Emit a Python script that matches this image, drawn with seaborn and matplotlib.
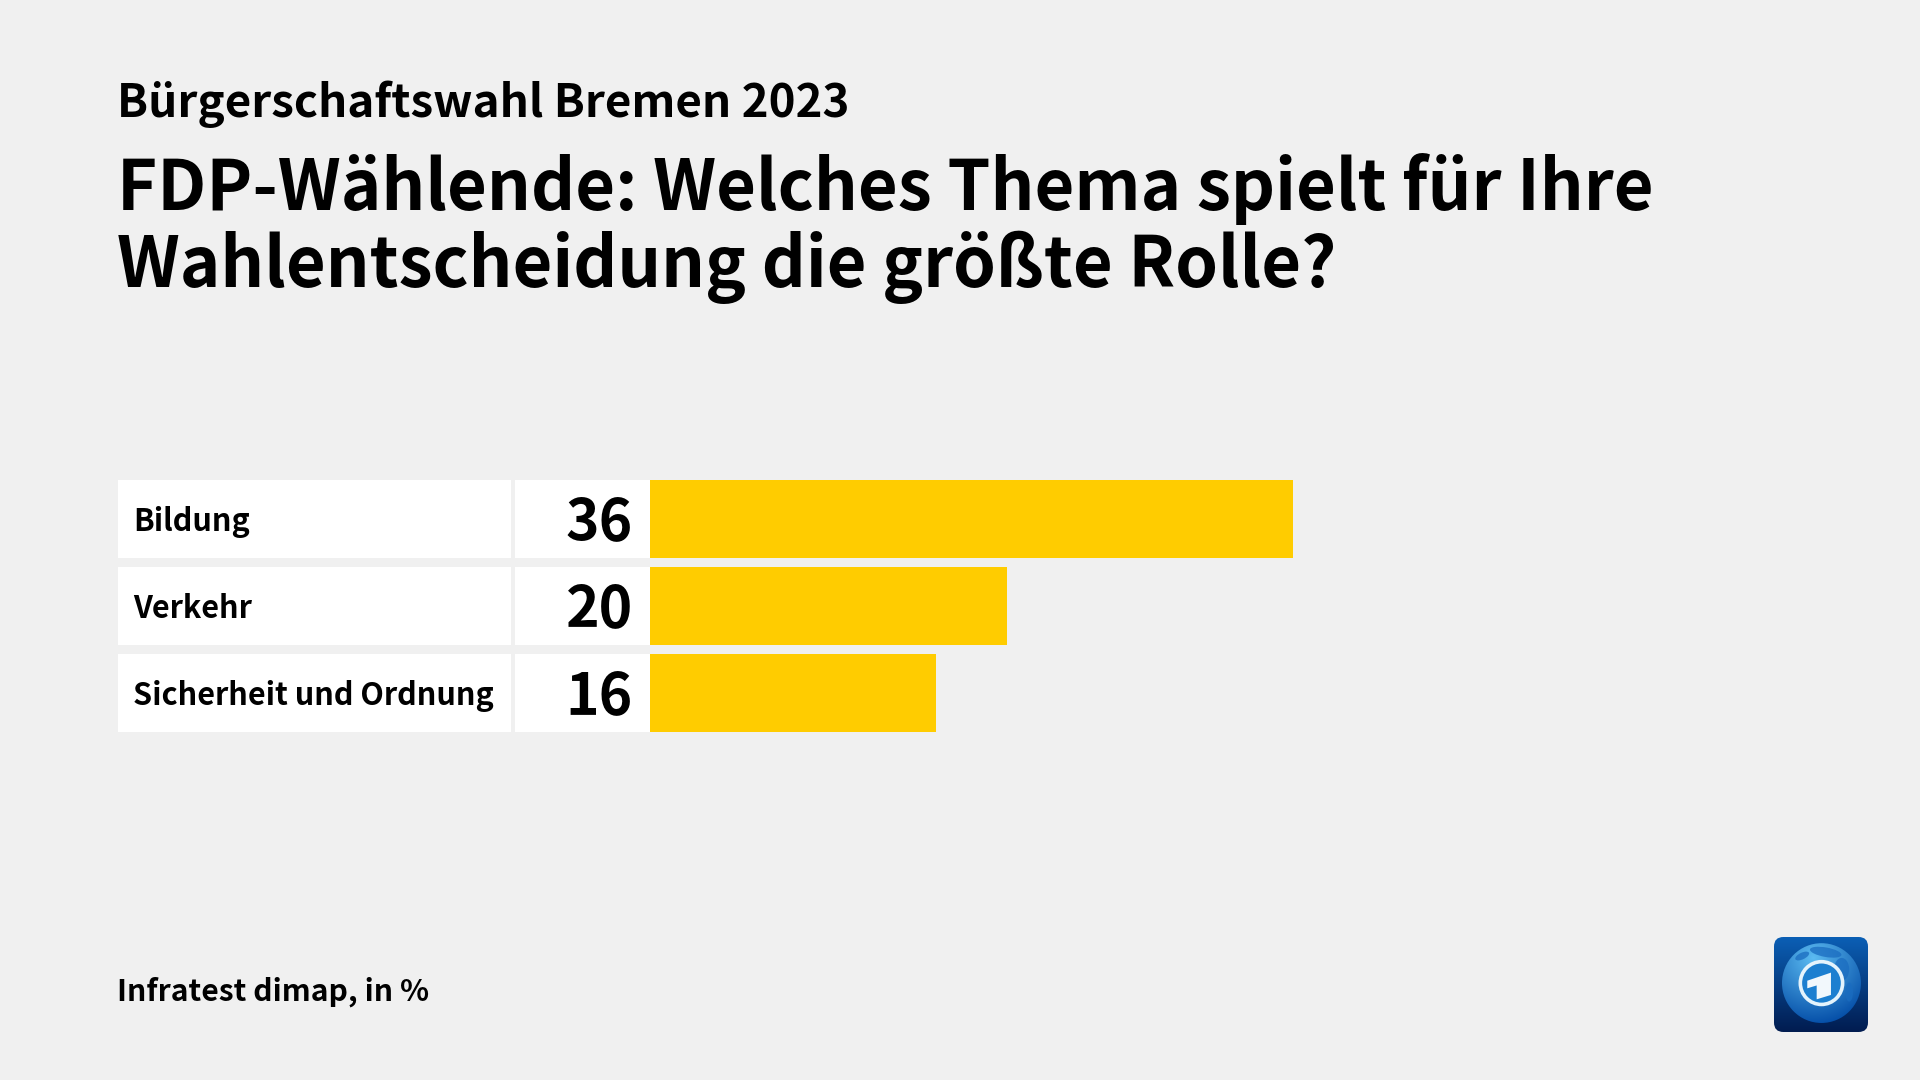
import numpy as np
import pandas as pd
import seaborn as sns
import matplotlib
matplotlib.use("Agg")
import matplotlib.pyplot as plt
from matplotlib.patches import Rectangle, FancyBboxPatch, Circle, Polygon, Ellipse
from matplotlib.transforms import blended_transform_factory

categories = ["Bildung", "Verkehr", "Sicherheit und Ordnung"]
values = [36, 20, 16]
supertitle = "Bürgerschaftswahl Bremen 2023"
title_lines = ["FDP-Wählende: Welches Thema spielt für Ihre",
               "Wahlentscheidung die größte Rolle?"]
source = "Infratest dimap, in %"

BG = "#f0f0f0"
YEL = "#ffcc00"
W, H = 1920, 1080
FONT = "Noto Sans CJK JP"

sns.set_theme(style="white", rc={"figure.facecolor": BG, "axes.facecolor": "none"})
plt.rcParams["font.family"] = [FONT, "DejaVu Sans"]

fig = plt.figure(figsize=(W / 100, H / 100), dpi=100, facecolor=BG)

def px_axes(x0, y0, x1, y1):
    return fig.add_axes([x0 / W, 1 - y1 / H, (x1 - x0) / W, (y1 - y0) / H])

def ftext(x, y, s, **kw):
    return fig.text(x / W, 1 - y / H, s, color="black", ha="left", va="baseline", **kw)

ax = px_axes(650, 475.5, 1293, 736.5)
df = pd.DataFrame({"Thema": categories, "Wert": values})
sns.barplot(data=df, y="Thema", x="Wert", color=YEL, saturation=1, width=78 / 87,
            linewidth=0, ax=ax)
ax.set_xlim(0, max(values))
ax.set_ylim(len(values) - 0.5, -0.5)
ax.axis("off")

half = 39 / 87
tr = blended_transform_factory(fig.transFigure, ax.transData)
for i, (c, v) in enumerate(zip(categories, values)):
    for x0, x1 in [(117.5, 510.5), (514.5, 650)]:
        ax.add_patch(Rectangle((x0 / W, i - half), (x1 - x0) / W, 2 * half, transform=tr,
                               facecolor="white", edgecolor="none", clip_on=False, zorder=1))
    ax.text(133 / W, i + 12 / 87, c, transform=tr, ha="left", va="baseline", fontsize=22,
            fontweight="bold", color="black", clip_on=False, zorder=3)
    ax.text(633 / W, i + 21 / 87, str(v), transform=tr, ha="right", va="baseline", fontsize=41,
            fontweight="bold", color="black", clip_on=False, zorder=3)

ftext(117, 117, supertitle, fontsize=32.9, fontweight="bold")
ftext(117, 210, title_lines[0], fontsize=49.55, fontweight="bold")
ftext(117, 287, title_lines[1], fontsize=49.4, fontweight="bold")
ftext(117, 1001, source, fontsize=21.7, fontweight="bold")

# logo
lx0, ly0, lx1, ly1 = 1774, 937, 1868, 1032
lax = px_axes(lx0, ly0, lx1, ly1)
lax.set_xlim(0, 1); lax.set_ylim(1, 0); lax.axis("off")
grad = np.linspace(0, 1, 128)[:, None]
c0 = np.array([0x0b, 0x5f, 0xb5]) / 255
c1 = np.array([0x01, 0x1c, 0x50]) / 255
img = c0[None, None, :] * (1 - grad[..., None]) + c1[None, None, :] * grad[..., None]
im = lax.imshow(img, extent=(0, 1, 1, 0), aspect="auto", zorder=1)
clip = FancyBboxPatch((0.07, 0.07), 0.86, 0.86, boxstyle="round,pad=0.07,rounding_size=0.1",
                      transform=lax.transData, facecolor="none", edgecolor="none")
lax.add_patch(clip)
im.set_clip_path(clip)
n = 200
yy, xx = np.mgrid[0:1:n * 1j, 0:1:n * 1j]
d = np.hypot(xx - 0.42, yy - 0.22)
glow = np.clip(d / 0.72, 0, 1)[..., None]
c2 = np.array([0x5c, 0xbc, 0xf2]) / 255
c3 = np.array([0x03, 0x4c, 0xa6]) / 255
gl = c2[None, None, :] * (1 - glow) + c3[None, None, :] * glow
gi = lax.imshow(gl, extent=(0, 1, 1, 0), aspect="auto", zorder=2)
globe = Circle((0.505, 0.485), 0.42, transform=lax.transData, facecolor="none", edgecolor="none")
lax.add_patch(globe)
gi.set_clip_path(globe)
for (ex, ey, ew, eh, ang) in [(0.55, 0.16, 0.34, 0.10, 10), (0.72, 0.34, 0.16, 0.24, 0),
                              (0.30, 0.20, 0.16, 0.07, -25), (0.80, 0.58, 0.08, 0.2, 0)]:
    e = Ellipse((ex, ey), ew, eh, angle=ang, facecolor="#1a6cc0", edgecolor="none", alpha=0.75, zorder=2.5)
    lax.add_patch(e)
    e.set_clip_path(globe)
lax.add_patch(Circle((0.505, 0.485), 0.225, facecolor="#1c7fd0", edgecolor="#e4f3fc", lw=2.6, zorder=3))
lax.add_patch(Polygon([[0.354, 0.46], [0.606, 0.375], [0.606, 0.61], [0.454, 0.656], [0.454, 0.51], [0.354, 0.54]],
                      closed=True, facecolor="#f2f8fc", edgecolor="none", zorder=4))
lax.set_xlim(0, 1); lax.set_ylim(1, 0)

fig.savefig("out.png", dpi=100, facecolor=BG)
